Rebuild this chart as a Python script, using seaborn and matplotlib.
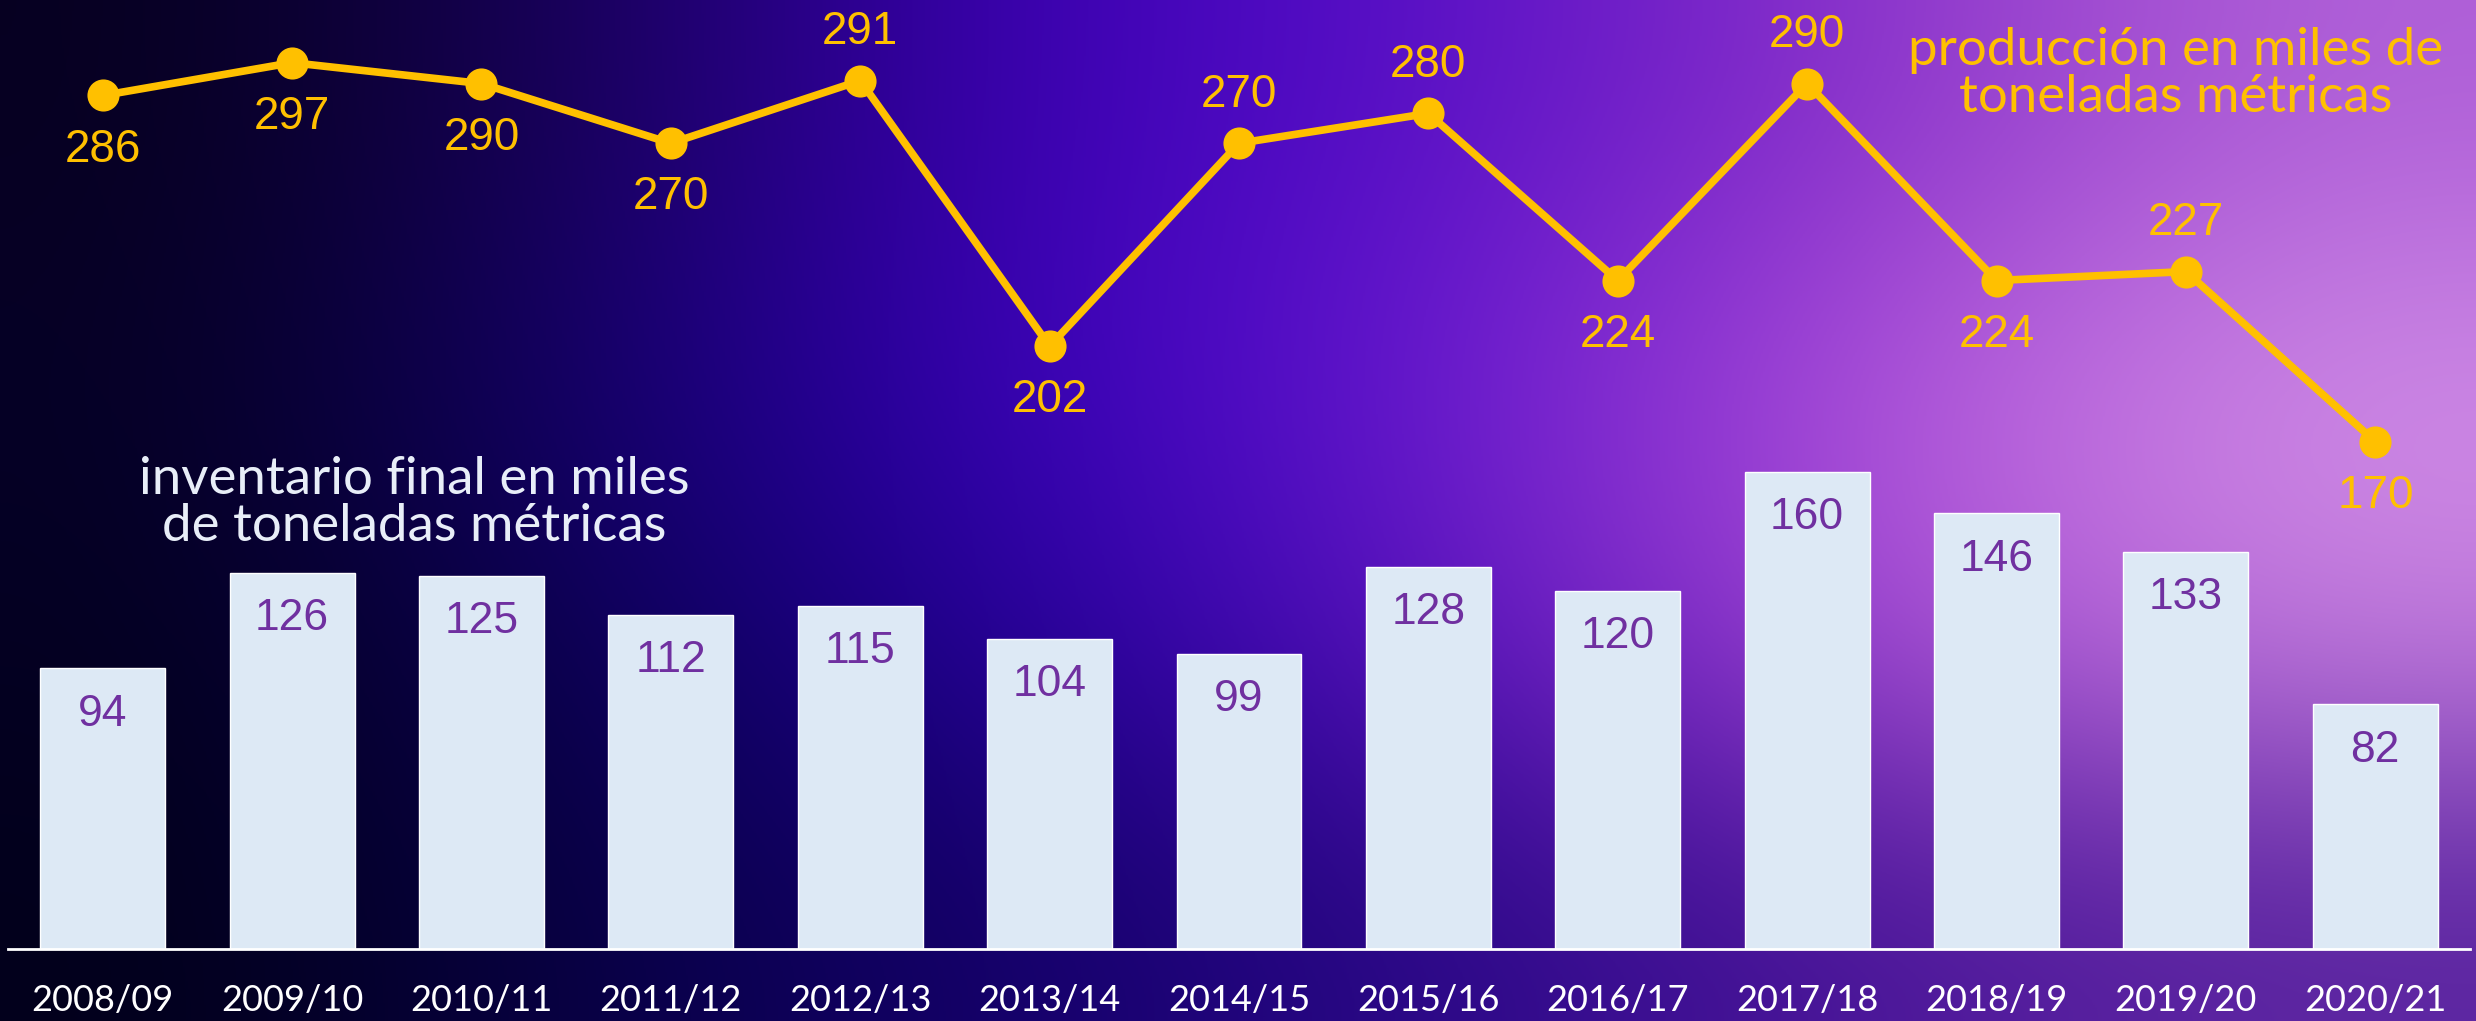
import numpy as np
import pandas as pd
import seaborn as sns
import matplotlib.pyplot as plt
from matplotlib.colors import to_rgb

# %%
seasons = ["2008/09", "2009/10", "2010/11", "2011/12", "2012/13", "2013/14", "2014/15",
           "2015/16", "2016/17", "2017/18", "2018/19", "2019/20", "2020/21"]
inventario = [94, 126, 125, 112, 115, 104, 99, 128, 120, 160, 146, 133, 82]
produccion = [286, 297, 290, 270, 291, 202, 270, 280, 224, 290, 224, 227, 170]
# label above (+1) or below (-1) the point
prod_pos = [-1, -1, -1, -1, 1, -1, 1, 1, -1, 1, -1, 1, -1]

df = pd.DataFrame({"temporada": seasons, "inventario": inventario, "produccion": produccion})

gold = "#ffc000"
bar_col = "#dde9f5"
lbl_col = "#7030a0"

# %%
sns.set_style("white")
plt.rcParams["font.family"] = ["Lato", "DejaVu Sans"]

fig = plt.figure(figsize=(24.76, 10.21), dpi=100)

# background gradient
bg_rows = [
    ["#06001f", "#1a0060", "#3c00b8", "#5a10c8", "#8a30c8", "#b060d8"],
    ["#050024", "#140070", "#3a00c0", "#6a18d0", "#b050d8", "#d08ee6"],
    ["#040020", "#0c0058", "#2400a0", "#5a10c0", "#a848d4", "#c880e0"],
    ["#02001a", "#080048", "#14006a", "#2a0888", "#4a1498", "#5a24a0"],
]
bg = np.array([[to_rgb(c) for c in row] for row in bg_rows])
bg_ax = fig.add_axes([0, 0, 1, 1], zorder=-1)
bg_ax.imshow(bg, aspect="auto", interpolation="bicubic", extent=[0, 1, 0, 1])
bg_ax.axis("off")

ax = fig.add_axes([8 / 2476, 72 / 1021, 2462 / 2476, 949 / 1021])
ax.set_facecolor("none")

sns.barplot(data=df, x="temporada", y="inventario", color=bar_col, width=0.66,
            saturation=1, ax=ax, zorder=2)
sns.pointplot(data=df, x="temporada", y="produccion", color=gold, markers="o",
              markersize=19, linewidth=5.5, errorbar=None, ax=ax, zorder=3)

num_font = ["Liberation Sans", "DejaVu Sans"]
for i, v in enumerate(inventario):
    ax.annotate(str(v), (i, v), xytext=(0, -33), textcoords="offset points",
                ha="center", va="center", fontsize=32, color=lbl_col,
                family=num_font, zorder=4)

for i, (v, p) in enumerate(zip(produccion, prod_pos)):
    off = 35 if p > 0 else -39
    ax.annotate(str(v), (i, v), xytext=(0, off), textcoords="offset points",
                ha="center", va="center", fontsize=33, color=gold,
                family=num_font, zorder=4)

ax.set_xlim(-0.5, 12.5)
ax.set_ylim(0, 318)
ax.set_xlabel("")
ax.set_ylabel("")
ax.set_yticks([])
for s in ["top", "left", "right"]:
    ax.spines[s].set_visible(False)
ax.spines["bottom"].set_color("white")
ax.spines["bottom"].set_linewidth(2)
ax.spines["bottom"].set_zorder(5)

# ticks at category boundaries, labels at centres
ax.set_xticks(np.arange(-0.5, 13, 1))
ax.set_xticklabels([])
ax.tick_params(axis="x", which="major", direction="in", length=7, width=2, color="white")
ax.set_xticks(np.arange(13), minor=True)
ax.set_xticklabels(seasons, minor=True)
ax.tick_params(axis="x", which="minor", length=0, pad=25, labelsize=26, labelcolor="white")

fig.text(414 / 2476, 1 - 503 / 1021, "inventario final en miles\nde toneladas métricas",
         ha="center", va="center", fontsize=38, color="#e8eef8", linespacing=1.02)
fig.text(2176 / 2476, 1 - 74 / 1021, "producción en miles de\ntoneladas métricas",
         ha="center", va="center", fontsize=38, color=gold, linespacing=1.02)

plt.savefig("out.png", dpi=100)
